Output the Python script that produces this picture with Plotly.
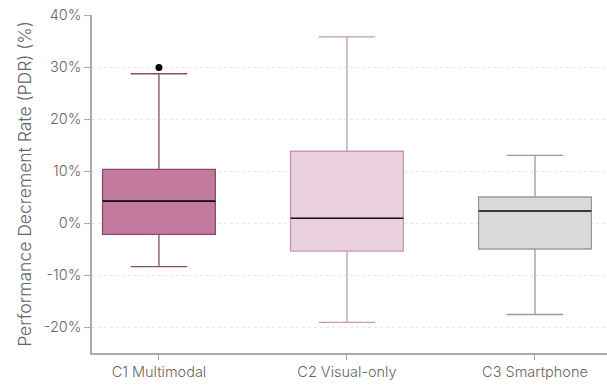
import plotly.graph_objects as go

# Condition labels and box statistics (PDR, %)
categories = ["C1 Multimodal", "C2 Visual-only", "C3 Smartphone"]
q1_vals = [-2.2, -5.4, -5.0]
median_vals = [4.2, 0.9, 2.3]
q3_vals = [10.3, 13.8, 5.0]
lower_fence = [-8.4, -19.1, -17.6]
upper_fence = [28.7, 35.8, 13.0]
outlier_x = [0]
outlier_y = [29.9]
y_tickvals = [-20, -10, 0, 10, 20, 30, 40]
y_ticktext = ["-20%", "-10%", "0%", "10%", "20%", "30%", "40%"]

fill_colors = ["#c27b9f", "#ead0dc", "#d9d9d9"]
line_colors = ["#8a4a6e", "#c39bb0", "#9a9a9a"]

positions = list(range(len(categories)))
box_width = 0.6

fig = go.Figure()
for i, name in enumerate(categories):
    fig.add_trace(go.Box(
        x=[positions[i]],
        q1=[q1_vals[i]], median=[median_vals[i]], q3=[q3_vals[i]],
        lowerfence=[lower_fence[i]], upperfence=[upper_fence[i]],
        name=name,
        width=box_width,
        whiskerwidth=0.5,
        fillcolor=fill_colors[i],
        line=dict(color=line_colors[i], width=1.3),
        boxpoints=False,
        showlegend=False,
        hoverinfo="skip",
    ))
    # black median line across the box
    fig.add_trace(go.Scatter(
        x=[positions[i] - box_width / 2, positions[i] + box_width / 2],
        y=[median_vals[i], median_vals[i]],
        mode="lines",
        line=dict(color="#111111", width=1.6),
        showlegend=False,
        hoverinfo="skip",
    ))

fig.add_trace(go.Scatter(
    x=outlier_x, y=outlier_y, mode="markers",
    marker=dict(color="#000000", size=7),
    showlegend=False, hoverinfo="skip",
))

text_color = "#666666"

fig.update_layout(
    width=607, height=386,
    margin=dict(l=92, r=0, t=15, b=33),
    paper_bgcolor="white", plot_bgcolor="white",
    font=dict(family="Inter, sans-serif", size=14, color=text_color, weight=300),
)
fig.update_xaxes(
    range=[-0.356, 2.383],
    tickvals=positions, ticktext=categories,
    showgrid=False, zeroline=False,
    showline=True, linecolor="#aaaaaa", linewidth=1.5,
    ticks="outside", ticklen=5, tickcolor="#aaaaaa",
    tickfont=dict(size=14.5, color=text_color, weight=300),
)
fig.update_yaxes(
    range=[-25, 40],
    tickvals=y_tickvals, ticktext=y_ticktext,
    showgrid=True, gridcolor="#e8e8e8", griddash="dot", gridwidth=1,
    zeroline=False,
    showline=True, linecolor="#aaaaaa", linewidth=1.5,
    ticks="outside", ticklen=6, tickcolor="#aaaaaa",
    tickfont=dict(size=14.5, color=text_color, weight=300),
    title=dict(text="Performance Decrement Rate (PDR) (%)",
               font=dict(size=17.5, color=text_color, weight=300), standoff=8),
)

fig.write_html("out.html")
